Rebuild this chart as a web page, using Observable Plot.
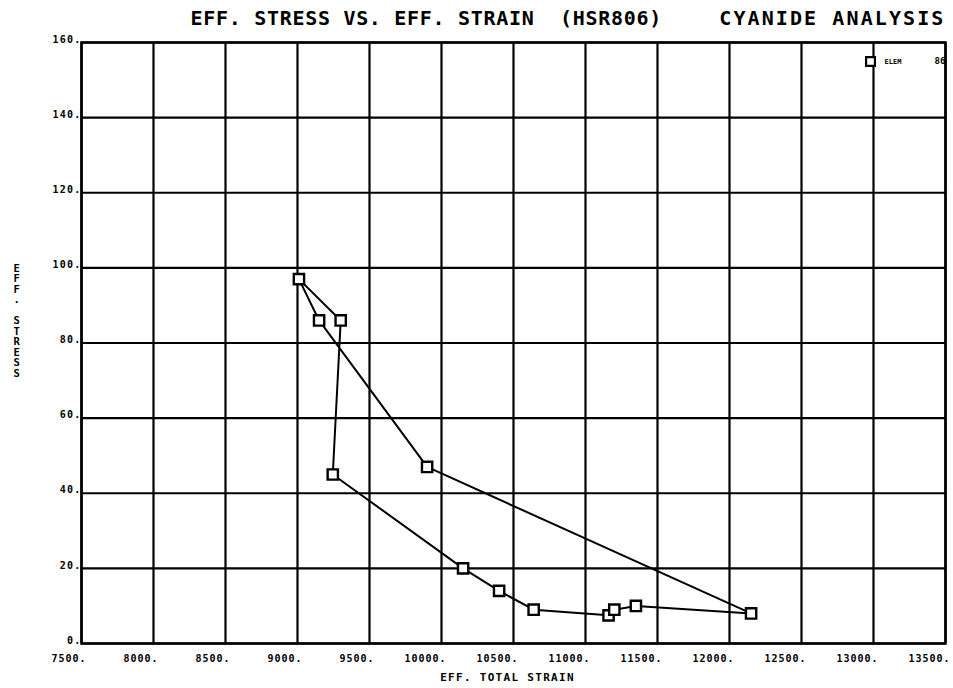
<!DOCTYPE html>
<html>
<head>
<meta charset="utf-8">
<script src="https://cdn.jsdelivr.net/npm/d3@7"></script>
<script src="https://cdn.jsdelivr.net/npm/@observablehq/plot@0.6"></script>
<style>
  html, body { margin: 0; padding: 0; background: white; }
  #chart svg { display: block; }
</style>
</head>
<body>
<div id="chart"></div>
<script>
// Data
const xTicks = [7500, 8000, 8500, 9000, 9500, 10000, 10500, 11000, 11500, 12000, 12500, 13000, 13500];
const yTicks = [0, 20, 40, 60, 80, 100, 120, 140, 160];
const strain = [9300, 9245, 10150, 10400, 10640, 11160, 11200, 11350, 12150, 9900, 9150, 9010];
const stress = [86, 45, 20, 14, 9, 7.5, 9, 10, 8, 47, 86, 97];
const titleLeft = "EFF. STRESS VS. EFF. STRAIN  (HSR806)";
const titleRight = "CYANIDE ANALYSIS";
const xLabel = "EFF. TOTAL STRAIN";
const yLabel = "EFF. STRESS";
const legendLabel = "ELEM";
const legendId = "86";

const points = strain.map((x, i) => ({x, y: stress[i]}));
const loop = [...points, points[0]];
const font = "DejaVu Sans Mono";

const chart = Plot.plot({
  width: 953,
  height: 688,
  marginTop: 42,
  marginBottom: 45,
  marginLeft: 81,
  marginRight: 8,
  x: {domain: [7500, 13500]},
  y: {domain: [0, 160]},
  style: {fontFamily: font, background: "white", color: "black"},
  marks: [
    Plot.ruleX(xTicks, {stroke: "black", strokeWidth: 2.2}),
    Plot.ruleY(yTicks, {stroke: "black", strokeWidth: 2.2}),
    Plot.frame({stroke: "black", strokeWidth: 2.5}),
    Plot.line(loop, {x: "x", y: "y", stroke: "black", strokeWidth: 2}),
    Plot.dot(points, {x: "x", y: "y", symbol: "square", r: 5.8, stroke: "black", fill: "white", strokeWidth: 2.4}),
    Plot.axisX(xTicks, {
      tickSize: 0, tickPadding: 11, tickFormat: d => d + ".",
      textAnchor: "end", dx: 5, fontSize: 10, fontWeight: "bold", label: null
    }),
    Plot.axisY(yTicks, {
      tickSize: 0, tickPadding: 0, tickFormat: d => d + ".",
      dy: -3, fontSize: 10, fontWeight: "bold", label: null
    }),
    Plot.text([xLabel], {frameAnchor: "bottom", lineAnchor: "middle", dx: -6, dy: 34, fontSize: 11, fontWeight: "bold"}),
    Plot.text([titleLeft], {frameAnchor: "top-left", lineAnchor: "middle", textAnchor: "start", dx: 109, dy: -24, fontSize: 20, fontWeight: "bold"}),
    Plot.text([titleRight], {frameAnchor: "top-right", lineAnchor: "middle", textAnchor: "end", dx: 0, dy: -24, fontSize: 20, fontWeight: "bold"}),
    Plot.text([yLabel.split("").join("\n")], {frameAnchor: "left", lineAnchor: "middle", dx: -68, dy: -22, fontSize: 10.5, fontWeight: "bold", lineHeight: 1.0}),
    Plot.dot([legendLabel], {frameAnchor: "top-right", dx: -75, dy: 19, symbol: "square", r: 5, stroke: "black", fill: "white", strokeWidth: 2.2}),
    Plot.text([legendLabel], {frameAnchor: "top-right", lineAnchor: "middle", textAnchor: "start", dx: -61, dy: 19, fontSize: 7, fontWeight: "bold"}),
    Plot.text([legendId], {frameAnchor: "top-right", lineAnchor: "middle", textAnchor: "start", dx: -11, dy: 19, fontSize: 9, fontWeight: "bold"})
  ]
});
// letter spacing to match the wide typewriter-style lettering
const svg = d3.select(chart);
svg.selectAll('g[aria-label="x-axis tick label"] text').style("letter-spacing", "1px");
svg.selectAll('g[aria-label="y-axis tick label"] text').style("letter-spacing", "1.2px");
svg.selectAll("text").each(function() {
  const t = this.textContent;
  if (t === xLabel) this.style.letterSpacing = "1.3px";
  if (t === titleLeft) this.style.letterSpacing = "0.7px";
  if (t === titleRight) this.style.letterSpacing = "2.1px";
});
document.getElementById("chart").appendChild(chart);
</script>
</body>
</html>
